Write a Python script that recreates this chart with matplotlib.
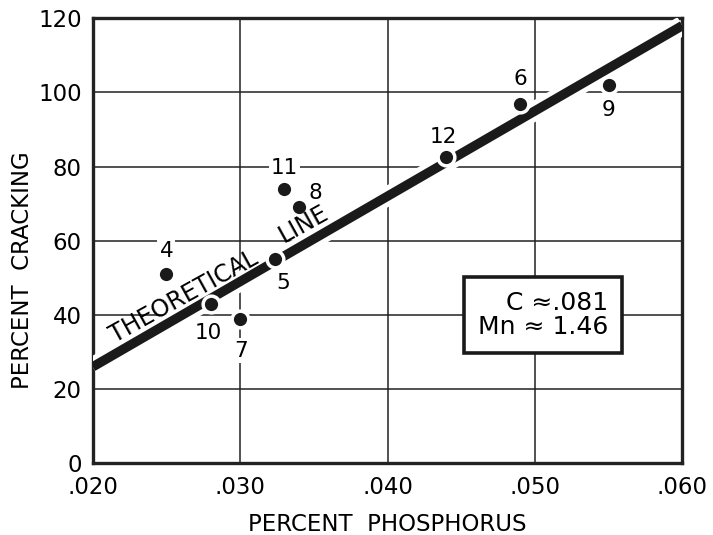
from matplotlib import pyplot as plt
import matplotlib.patheffects as pe
import numpy as np

plt.rc('font', family='DejaVu Sans', size=14)

# data
phos = [0.025, 0.028, 0.030, 0.0324, 0.033, 0.034, 0.044, 0.049, 0.055]
crack = [51, 43, 39, 55, 74, 69, 82.5, 97, 102]
labels = ['4', '10', '7', '5', '11', '8', '12', '6', '9']
# label offsets (pixels) for each point
offs = [(0, 23), (-2, -29), (1, -32), (8, -24), (0, 21), (16, 14), (-3, 20), (0, 25), (0, -25)]

theory_x = [0.020, 0.060]
theory_y = [26, 118]

xticks = [0.020, 0.030, 0.040, 0.050, 0.060]
xticklabels = ['.020', '.030', '.040', '.050', '.060']
yticks = [0, 20, 40, 60, 80, 100, 120]

fig = plt.figure(figsize=(7.13, 5.35), dpi=100)
ax = fig.add_axes([0.130, 0.134, 0.827, 0.832])
ax.set_xlim(0.020, 0.060)
ax.set_ylim(0, 120)

ax.set_xticks(xticks)
ax.set_xticklabels(xticklabels)
ax.set_yticks(yticks)
ax.tick_params(axis='x', length=0, pad=9, labelsize=16.5)
ax.tick_params(axis='y', length=0, pad=8, labelsize=16.5)
ax.grid(True, color='#222222', linewidth=1.1, zorder=0)
ax.set_axisbelow(True)
for s in ax.spines.values():
    s.set_linewidth(2.4)
    s.set_color('#222222')

# theoretical line, with white halo to break gridlines
ax.plot(theory_x, theory_y, color='#1a1a1a', linewidth=6.8, solid_capstyle='butt', zorder=3,
        path_effects=[pe.Stroke(linewidth=14, foreground='white'), pe.Normal()])

ax.plot(phos, crack, 'o', color='#1a1a1a', markersize=9.5, markeredgecolor='white',
        markeredgewidth=5, zorder=4)
ax.plot(phos, crack, 'o', color='#1a1a1a', markersize=9.5, markeredgewidth=0, zorder=5)

for x, y, lab, (dx, dy) in zip(phos, crack, labels, offs):
    ax.annotate(lab, (x, y), xytext=(dx, dy), textcoords='offset pixels',
                ha='center', va='center', fontsize=15.5, zorder=6,
                bbox=dict(boxstyle='square,pad=0.1', fc='white', ec='none'))

ax.text(0.02618, 44.8, 'THEORETICAL', rotation=29, ha='center', va='center',
        fontsize=17, zorder=6, rotation_mode='anchor')
ax.text(0.03432, 64.5, 'LINE', rotation=29, ha='center', va='center',
        fontsize=17, zorder=6, rotation_mode='anchor')

ax.text(0.05055, 40, 'C \u2248.081\nMn \u2248 1.46', ha='center', va='center',
        multialignment='right', fontsize=18, linespacing=1.0, zorder=6,
        bbox=dict(boxstyle='square,pad=0.55', fc='white', ec='#1a1a1a', lw=2.6))

ax.set_xlabel('PERCENT  PHOSPHORUS', fontsize=16.5, labelpad=10)
ax.set_ylabel('PERCENT  CRACKING', fontsize=16.5)
ax.yaxis.set_label_coords(-0.10, 0.434)

plt.savefig('out.png')
